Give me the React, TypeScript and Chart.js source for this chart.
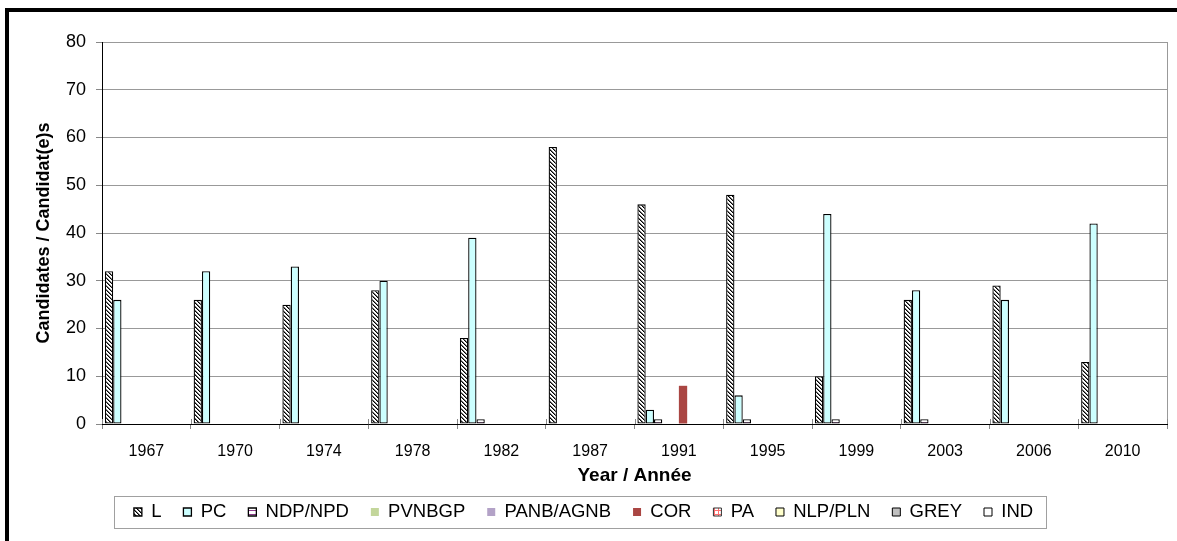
import React, { useEffect, useRef } from "react";
import { Chart, registerables } from "chart.js";

Chart.register(...registerables);

const years = ["1967", "1970", "1974", "1978", "1982", "1987", "1991", "1995", "1999", "2003", "2006", "2010"];
const seriesL = [32, 26, 25, 28, 18, 58, 46, 48, 10, 26, 29, 13];
const seriesPC = [26, 32, 33, 30, 39, 0, 3, 6, 44, 28, 26, 42];
const seriesNDP = [0, 0, 0, 0, 1, 0, 1, 1, 1, 1, 0, 0];
const seriesPVNBGP = [0, 0, 0, 0, 0, 0, 0, 0, 0, 0, 0, 0];
const seriesPANB = [0, 0, 0, 0, 0, 0, 0, 0, 0, 0, 0, 0];
const seriesCOR = [0, 0, 0, 0, 0, 0, 8, 0, 0, 0, 0, 0];
const seriesPA = [0, 0, 0, 0, 0, 0, 0, 0, 0, 0, 0, 0];
const seriesNLP = [0, 0, 0, 0, 0, 0, 0, 0, 0, 0, 0, 0];
const seriesGREY = [0, 0, 0, 0, 0, 0, 0, 0, 0, 0, 0, 0];
const seriesIND = [0, 0, 0, 0, 0, 0, 0, 0, 0, 0, 0, 0];
const yMin = 0;
const yMax = 80;
const yStep = 10;

const FONT = "'Liberation Sans', Arial, sans-serif";

function makePattern(kind: string): CanvasPattern | string {
  const c = document.createElement("canvas");
  const s = 4;
  c.width = s;
  c.height = s;
  const g = c.getContext("2d");
  if (!g) return "#fff";
  g.fillStyle = "#fff";
  g.fillRect(0, 0, s, s);
  if (kind === "hatch") {
    for (let i = 0; i < s; i++) {
      g.fillStyle = "#000";
      g.fillRect(i, i, 1, 1);
      g.fillStyle = "rgba(0,0,0,0.55)";
      g.fillRect((i + 1) % s, i, 1, 1);
    }
  } else if (kind === "hline") {
    g.fillStyle = "#8a3a8a";
    g.fillRect(0, 2, s, 1);
  } else if (kind === "grid") {
    g.fillStyle = "#ff7070";
    g.fillRect(0, 2, s, 1);
    g.fillRect(2, 0, 1, s);
  }
  const p = g.createPattern(c, "repeat");
  return p || "#fff";
}

const decorPlugin = {
  id: "decor",
  beforeDraw(chart: any) {
    const ctx = chart.ctx;
    ctx.save();
    ctx.fillStyle = "#fff";
    ctx.fillRect(0, 0, chart.width, chart.height);
    ctx.fillStyle = "#000";
    ctx.fillRect(5, 8, chart.width - 5, 4);
    ctx.fillRect(5, 8, 4, chart.height - 8);
    ctx.restore();
  },
  afterDraw(chart: any) {
    const ctx = chart.ctx;
    const a = chart.chartArea;
    ctx.save();
    ctx.lineWidth = 1;
    ctx.strokeStyle = "#999";
    ctx.beginPath();
    ctx.moveTo(Math.round(a.right) + 0.5, a.top);
    ctx.lineTo(Math.round(a.right) + 0.5, a.bottom);
    ctx.stroke();
    // inner part of crossing tick marks on the category axis
    const xs = chart.scales.x;
    const n = xs.ticks.length;
    const w = (xs.right - xs.left) / n;
    ctx.strokeStyle = "#888";
    ctx.beginPath();
    for (let i = 0; i <= n; i++) {
      const x = Math.round(xs.left + i * w) + 0.5;
      ctx.moveTo(x, a.bottom - 5);
      ctx.lineTo(x, a.bottom);
    }
    ctx.stroke();
    // legend frame
    const lg = chart.legend;
    const hb = lg && lg.legendHitBoxes;
    if (hb && hb.length) {
      const first = hb[0];
      const last = hb[hb.length - 1];
      const l = Math.round(first.left - 20) + 0.5;
      const r = Math.round(last.left + last.width + 13) + 0.5;
      const cy = first.top + first.height / 2;
      const t = Math.round(cy - 16) + 0.5;
      ctx.strokeStyle = "#a0a0a0";
      ctx.strokeRect(l, t, r - l, 32);
    }
    ctx.restore();
  },
};

export default function App() {
  const ref = useRef<HTMLCanvasElement | null>(null);

  useEffect(() => {
    if (!ref.current) return;
    const hatch = makePattern("hatch");
    const hline = makePattern("hline");
    const grid = makePattern("grid");

    const mk = (label: string, data: number[], bg: any, border: string, bw: number) => ({
      label,
      data,
      backgroundColor: bg,
      borderColor: border,
      borderWidth: bw,
      borderSkipped: false as any,
    });

    const chart = new Chart(ref.current, {
      type: "bar",
      data: {
        labels: years,
        datasets: [
          mk("L", seriesL, hatch, "#000", 1.3),
          mk("PC", seriesPC, "#CCFFFF", "#000", 1.3),
          mk("NDP/NPD", seriesNDP, hline, "#000", 1.3),
          mk("PVNBGP", seriesPVNBGP, "#C3D69B", "#C3D69B", 0),
          mk("PANB/AGNB", seriesPANB, "#B3A2C7", "#B3A2C7", 0),
          mk("COR", seriesCOR, "#AA4643", "#AA4643", 0),
          mk("PA", seriesPA, grid, "#333", 1),
          mk("NLP/PLN", seriesNLP, "#FFFFCC", "#000", 1),
          mk("GREY", seriesGREY, "#C0C0C0", "#000", 1),
          mk("IND", seriesIND, "#FFFFFF", "#000", 1),
        ],
      },
      options: {
        responsive: false,
        animation: false,
        devicePixelRatio: 1,
        layout: { padding: { left: 0, right: 10, top: 42, bottom: 9.75 } },
        datasets: {
          bar: { categoryPercentage: 0.935, barPercentage: 1 },
        },
        plugins: {
          legend: {
            position: "bottom",
            labels: {
              boxWidth: 8,
              boxHeight: 8,
              padding: 22,
              color: "#000",
              font: { family: FONT, size: 18.5 },
            },
          },
          tooltip: { enabled: false },
          title: { display: false },
        },
        scales: {
          x: {
            afterFit: (s: any) => {
              s.height = 56.75;
            },
            grid: {
              display: true,
              drawOnChartArea: false,
              drawTicks: true,
              tickLength: 5,
              tickColor: "#888",
              offset: true,
            },
            border: { color: "#000", width: 1 },
            ticks: {
              color: "#000",
              font: { family: FONT, size: 16 },
              padding: 13,
              maxRotation: 0,
              autoSkip: false,
            },
            title: {
              display: true,
              text: "Year / Année",
              color: "#000",
              font: { family: FONT, size: 19, weight: "bold", lineHeight: 1 },
              padding: { top: 0, bottom: -4.75 },
            },
          },
          y: {
            min: yMin,
            max: yMax,
            afterFit: (s: any) => {
              s.width = 102;
            },
            grid: {
              color: "#999",
              tickColor: "#888",
              tickLength: 6,
              drawTicks: true,
            },
            border: { color: "#000", width: 1 },
            ticks: {
              stepSize: yStep,
              color: "#000",
              font: { family: FONT, size: 18 },
              padding: 10,
            },
            title: {
              display: true,
              text: "Candidates / Candidat(e)s",
              color: "#000",
              font: { family: FONT, size: 18, weight: "bold", lineHeight: 1 },
              padding: { top: 35, bottom: 0 },
            },
          },
        },
      },
      plugins: [decorPlugin],
    });
    return () => chart.destroy();
  }, []);

  return (
    <div style={{ position: "fixed", left: 0, top: 0, width: 1177, height: 541, background: "#fff" }}>
      <canvas ref={ref} width={1177} height={541} style={{ display: "block" }} />
    </div>
  );
}
